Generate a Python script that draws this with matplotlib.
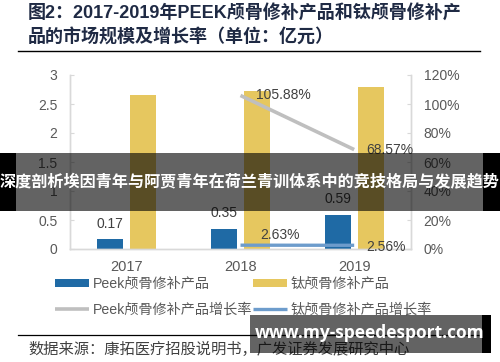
import matplotlib
matplotlib.use("Agg")
import matplotlib.pyplot as plt
from matplotlib.patches import Rectangle
from matplotlib.lines import Line2D
import numpy as np

plt.rcParams['font.family'] = ['Liberation Sans', 'Noto Sans CJK SC', 'DejaVu Sans']

years = ['2017', '2018', '2019']
peek_size = [0.17, 0.35, 0.59]
ti_size = [2.66, 2.73, 2.80]
growth_years = [1, 2]
peek_growth = [105.88, 68.57]
ti_growth = [2.63, 2.56]

title_lines = ['图2：2017-2019年PEEK颅骨修补产品和钛颅骨修补产',
               '品的市场规模及增长率（单位：亿元）']
legend_labels = ['Peek颅骨修补产品', 'Peek颅骨修补产品增长率', '钛颅骨修补产品', '钛颅骨修补产品增长率']
source_text = '数据来源：康拓医疗招股说明书，广发证券发展研究中心'
banner_text = '深度剖析埃因青年与阿贾青年在荷兰青训体系中的竞技格局与发展趋势'
watermark_text = 'www.my-speedesport.com'

C_PEEK = '#1f6aa5'
C_TI = '#e6c75f'
C_PG = '#bfbfbf'
C_TG = '#6d9ccc'
C_TXT = '#595959'
C_SPINE = '#d9d9d9'

W, H = 500, 362
fig = plt.figure(figsize=(W / 100, H / 100), dpi=100)

def fx(x):
    return x / W

def fy(y):
    return 1 - y / H

ax = fig.add_axes([fx(70), fy(249), fx(411) - fx(70), fy(75) - fy(249)])
ax2 = ax.twinx()

x = np.arange(len(years))
bw = 0.23
off = 0.145
b1 = ax.bar(x - off, peek_size, bw, color=C_PEEK, zorder=2)
b2 = ax.bar(x + off, ti_size, bw, color=C_TI, zorder=2)
for xi, v in zip(x, peek_size):
    ax.annotate(f'{v:.2f}', (xi - off, v), xytext=(0, 6), textcoords='offset points',
                ha='center', va='bottom', fontsize=10, color='#404040')

ax.set_xlim(-0.5, 2.5)
ax.set_ylim(0, 3)
ax.set_yticks([0, 0.5, 1, 1.5, 2, 2.5, 3])
ax.set_yticklabels(['0', '0.5', '1', '1.5', '2', '2.5', '3'])
ax.set_xticks(x)
ax.set_xticklabels(years)

l1, = ax2.plot(growth_years, peek_growth, color=C_PG, lw=2.6, zorder=3, solid_capstyle='butt')
l2, = ax2.plot(growth_years, ti_growth, color=C_TG, lw=2.4, zorder=3, solid_capstyle='butt')
ax2.set_ylim(0, 120)
ax2.set_yticks(range(0, 121, 20))
ax2.set_yticklabels([f'{v}%' for v in range(0, 121, 20)])

ax2.annotate(f'{peek_growth[0]:.2f}%', (growth_years[0], peek_growth[0]), xytext=(11, 0),
             textcoords='offset points', ha='left', va='center', fontsize=10, color='#404040')
ax2.annotate(f'{peek_growth[1]:.2f}%', (growth_years[1], peek_growth[1]), xytext=(9, 0),
             textcoords='offset points', ha='left', va='center', fontsize=10, color='#404040')
ax2.annotate(f'{ti_growth[0]:.2f}%', (growth_years[0], ti_growth[0]), xytext=(14, 7),
             textcoords='offset points', ha='left', va='center', fontsize=10, color='#404040')
ax2.annotate(f'{ti_growth[1]:.2f}%', (growth_years[1], ti_growth[1]), xytext=(9, -1),
             textcoords='offset points', ha='left', va='center', fontsize=10, color='#404040')

for a in (ax, ax2):
    a.spines['top'].set_visible(False)
    for s in ('left', 'right', 'bottom'):
        a.spines[s].set_color(C_SPINE)
        a.spines[s].set_linewidth(1.0)
    a.tick_params(axis='both', direction='in', length=3, color=C_SPINE,
                  labelcolor=C_TXT, labelsize=10)
ax.tick_params(axis='y', pad=9)
ax2.tick_params(axis='y', pad=9)
ax.tick_params(axis='x', length=0, pad=8, labelsize=10.5)
ax.set_zorder(ax2.get_zorder() - 1)
ax.patch.set_visible(True)
ax.patch.set_facecolor('white')
ax2.patch.set_visible(False)

handles = [b1, l1, b2, l2]
leg = fig.legend(handles, legend_labels, ncol=2, loc='upper left',
                 bbox_to_anchor=(fx(55), fy(277)), frameon=False, fontsize=10.2,
                 handlelength=2.4, handletextpad=0.3, columnspacing=0.0,
                 labelspacing=0.8, handleheight=0.5, labelcolor=C_TXT,
                 borderaxespad=0, borderpad=0)

# title
fig.text(fx(28), fy(13), title_lines[0], fontsize=13, fontweight='bold', color='#1f2a44',
         ha='left', va='center')
fig.text(fx(28), fy(38), title_lines[1], fontsize=13, fontweight='bold', color='#1f2a44',
         ha='left', va='center')
fig.add_artist(Line2D([fx(18), fx(480)], [fy(51), fy(51)], color='black', lw=1.0))

# source
fig.add_artist(Line2D([fx(18), fx(480)], [fy(335), fy(335)], color='black', lw=0.9))
fig.text(fx(28), fy(349), source_text, fontsize=11, color='#404040', ha='left', va='center')

# banner overlay
fig.add_artist(Rectangle((fx(16), fy(211)), fx(482.7) - fx(16), fy(152.7) - fy(211),
                         transform=fig.transFigure, facecolor='black', alpha=0.61,
                         edgecolor='none', zorder=10))
fig.add_artist(Rectangle((0, fy(211)), fx(16), fy(152.7) - fy(211),
                         transform=fig.transFigure, facecolor='black', edgecolor='none', zorder=10))
fig.add_artist(Rectangle((fx(482.7), fy(211)), 1 - fx(482.7), fy(152.7) - fy(211),
                         transform=fig.transFigure, facecolor='black', edgecolor='none', zorder=10))
fig.text(0.5, fy(182), banner_text, fontsize=11.6, fontweight='bold', color='white',
         ha='center', va='center', family=['Noto Sans CJK SC', 'DejaVu Sans'], zorder=11)

# watermark
fig.add_artist(Rectangle((fx(250), fy(352.7)), fx(481.7) - fx(250), fy(315) - fy(352.7),
                         transform=fig.transFigure, facecolor='black', alpha=0.61,
                         edgecolor='none', zorder=10))
fig.add_artist(Rectangle((fx(481.7), fy(352.7)), fx(490.7) - fx(481.7), fy(315) - fy(352.7),
                         transform=fig.transFigure, facecolor='black', edgecolor='none', zorder=10))
fig.text(fx(369.5), fy(333), watermark_text, fontsize=12.5, fontweight='bold', color='white',
         ha='center', va='center', family=['Open Sans', 'DejaVu Sans'], zorder=11)

fig.savefig('out.png', dpi=100)
